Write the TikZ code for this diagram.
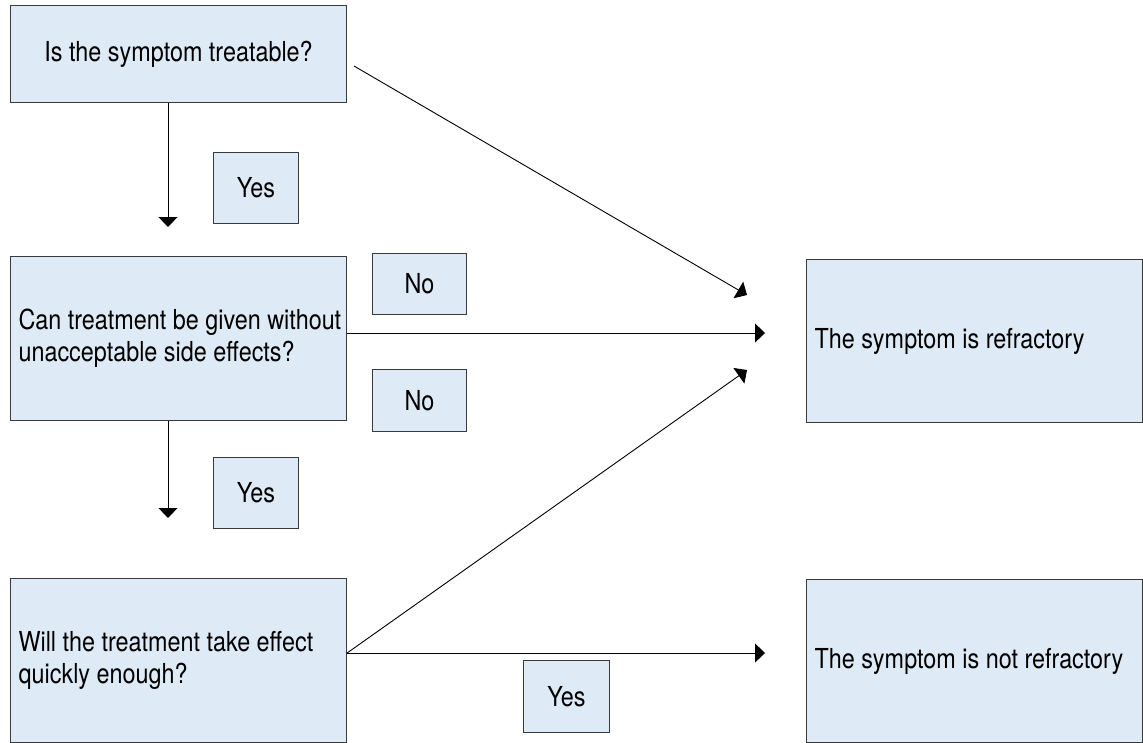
\documentclass[tikz,border=0pt]{standalone}
\usepackage{fontspec}
\setmainfont{TeX Gyre Heros}[FakeStretch=0.85]
\usetikzlibrary{arrows.meta}
\definecolor{boxfill}{HTML}{DEEAF5}
\definecolor{boxline}{HTML}{3A3A3A}
% one line of box text, set with the font's own interword space
\newcommand\txtline[1]{\mbox{\spaceskip=0pt\xspaceskip=0pt\relax #1}}

\begin{document}
\begin{tikzpicture}[x=1pt,y=-1pt,
  box/.style={draw=boxline, fill=boxfill, line width=1.1pt, inner xsep=8pt, inner ysep=0pt,
              anchor=north west, font=\fontsize{27.5}{32}\selectfont},
  lbl/.style={box, inner xsep=0pt, align=center},
  conn/.style={line width=0.9pt, -{Triangle[length=10pt,width=19pt]}}]
\useasboundingbox (0,0) rectangle (1143,742);

% question boxes
\node[box, minimum width=336pt, minimum height=97pt, align=center] (q1) at (10,5) {Is the symptom treatable?};
\node[box, minimum width=336pt, minimum height=164pt, text width=320pt, align=left] (q2) at (10,256)
  {\txtline{Can treatment be given without}\\\txtline{unacceptable side effects?}};
\node[box, minimum width=336pt, minimum height=164pt, text width=320pt, align=left] (q3) at (10,578)
  {\txtline{Will the treatment take effect}\\\txtline{quickly enough?}};

% outcome boxes
\node[box, minimum width=336pt, minimum height=163pt, text width=320pt, align=left] (r1) at (806,259)
  {\txtline{The symptom is refractory}};
\node[box, minimum width=336pt, minimum height=163pt, text width=320pt, align=left] (r2) at (806,579)
  {\txtline{The symptom is not refractory}};

% answer labels
\node[lbl, minimum width=85pt, minimum height=71pt] (y1) at (213,152) {Yes};
\node[lbl, minimum width=85pt, minimum height=71pt] (y2) at (213,457) {Yes};
\node[lbl, minimum width=94pt, minimum height=61pt] (n1) at (372,253) {No};
\node[lbl, minimum width=94pt, minimum height=62pt] (n2) at (372,369) {No};
\node[lbl, minimum width=86pt, minimum height=72pt] (y3) at (523,660) {Yes};

% arrow tips and start points
\coordinate (t1) at (168,227);
\coordinate (t2) at (168,518);
\coordinate (s1) at (354,66);
\coordinate (td1) at (747,295);
\coordinate (th1) at (765,333);
\coordinate (td2) at (747,370);
\coordinate (th2) at (765,653);

% connectors
\draw[conn] (q1.south -| t1) -- (t1);
\draw[conn] (q2.south -| t2) -- (t2);
\draw[conn] (s1) -- (td1);
\draw[conn] (q2.east |- th1) -- (th1);
\draw[conn] (q3.east |- th2) -- (td2);
\draw[conn] (q3.east |- th2) -- (th2);
\end{tikzpicture}
\end{document}
